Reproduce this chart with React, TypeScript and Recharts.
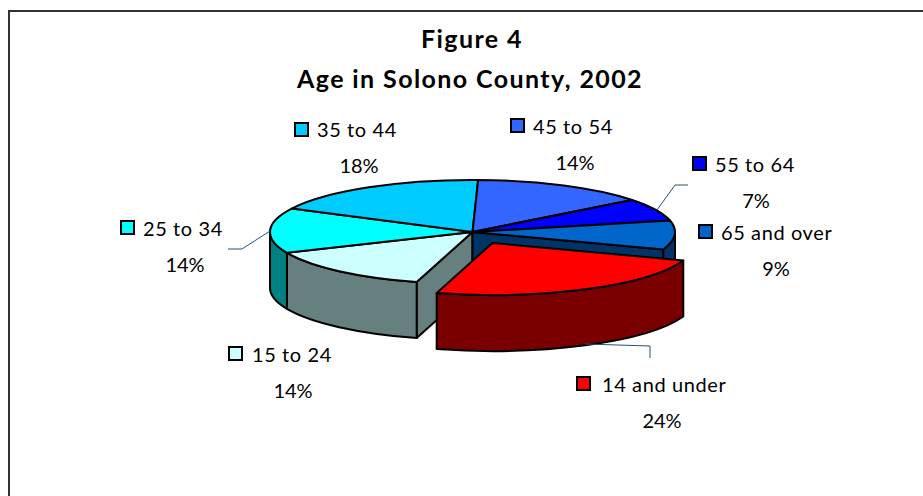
import { PieChart, Pie } from 'recharts';

// clockwise from the slice at the back left of the gap, so the pulled-out slice paints last
const ageGroups = ['15 to 24', '25 to 34', '35 to 44', '45 to 54', '55 to 64', '65 and over', '14 and under'];
const shares = [14, 14, 18, 14, 7, 9, 24];

const topColors = ['#CCFFFF', '#00FFFF', '#00CCFF', '#3366FF', '#0000FF', '#0066CC', '#FF0000'];
const wallColors = ['#668080', '#008080', '#006680', '#1A3380', '#000080', '#003366', '#7A0000'];

const data = ageGroups.map((name, i) => ({ name, value: shares[i], top: topColors[i], wall: wallColors[i] }));

const FONT = 'Lato, "Open Sans", sans-serif';
const SQUASH = 0.257;
const DEPTH = 56;
const PULLED = '14 and under';
const PULL_X = 20;
const PULL_Y = 11;
const LEADER = '#24507f';

type Spot = { sx: number; sy: number; tx: number; ty: number; px: number; py: number; leader?: string };
const spots: Record<string, Spot> = {
  '35 to 44': { sx: 295, sy: 123, tx: 317, ty: 137, px: 359, py: 173 },
  '45 to 54': { sx: 511, sy: 119, tx: 533, ty: 134, px: 575, py: 170 },
  '55 to 64': { sx: 693, sy: 157, tx: 715, ty: 172, px: 756, py: 208, leader: '657,210 675,185 688,185' },
  '65 and over': { sx: 699, sy: 225, tx: 721, ty: 240, px: 776, py: 276 },
  '25 to 34': { sx: 121, sy: 221, tx: 143, ty: 236, px: 185, py: 272, leader: '270,231 242,249 228,249' },
  '15 to 24': { sx: 229, sy: 347, tx: 252, ty: 362, px: 293, py: 398 },
  '14 and under': { sx: 577, sy: 377, tx: 602, ty: 392, px: 662, py: 428, leader: '585,344 650,346 650,358' },
};

function Slice(props: any) {
  const { outerRadius: rx, startAngle, endAngle, name } = props;
  const top = props.payload?.top ?? props.top;
  const wall = props.payload?.wall ?? props.wall;
  const ry = rx * SQUASH;
  const cx = props.cx + (name === PULLED ? PULL_X : 0);
  const cy = props.cy + (name === PULLED ? PULL_Y : 0);
  const pt = (deg: number, drop = 0): [number, number] => {
    const r = (deg * Math.PI) / 180;
    return [cx + rx * Math.cos(r), cy - ry * Math.sin(r) + drop];
  };
  const arc = (from: number, to: number, drop = 0) => {
    const [x, y] = pt(to, drop);
    const sweep = to < from ? 1 : 0;
    return `A ${rx} ${ry} 0 ${Math.abs(to - from) > 180 ? 1 : 0} ${sweep} ${x} ${y}`;
  };
  const [sx, sy] = pt(startAngle);
  const walls: string[] = [];
  // the rim only shows where the angle is on the lower half of the ellipse
  for (const k of [-360, 0]) {
    const a = Math.min(startAngle, k);
    const b = Math.max(endAngle, k - 180);
    if (a > b) {
      const [ax, ay] = pt(a);
      const [bx, by] = pt(b, DEPTH);
      const [cx2, cy2] = pt(a, DEPTH);
      walls.push(`M ${ax} ${ay} ${arc(a, b)} L ${bx} ${by} ${arc(b, a, DEPTH)} L ${cx2} ${cy2} Z`);
    }
  }
  const face = (deg: number) => {
    const [x, y] = pt(deg);
    return `M ${cx} ${cy} L ${x} ${y} L ${x} ${y + DEPTH} L ${cx} ${cy + DEPTH} Z`;
  };
  return (
    <g stroke="#000" strokeWidth={2} strokeLinejoin="round">
      {name === '15 to 24' && <path d={face(startAngle)} fill={wall} />}
      {name === '65 and over' && <path d={face(endAngle)} fill={wall} />}
      {walls.map((d, i) => (
        <path key={i} d={d} fill={wall} />
      ))}
      <path d={`M ${cx} ${cy} L ${sx} ${sy} ${arc(startAngle, endAngle)} Z`} fill={top} />
    </g>
  );
}

function SliceLabel(props: any) {
  const s = spots[props.name];
  const color = props.payload?.top ?? props.top;
  return (
    <g fontFamily={FONT} fontSize={20} fill="#000">
      {s.leader && <polyline points={s.leader} fill="none" stroke={LEADER} strokeWidth={1} />}
      <rect x={s.sx} y={s.sy} width={13} height={13} fill={color} stroke="#000" strokeWidth={2} />
      <text x={s.tx} y={s.ty} letterSpacing={0.6}>
        {props.name}
      </text>
      <text x={s.px} y={s.py} textAnchor="middle">
        {props.value}%
      </text>
    </g>
  );
}

export default function App() {
  return (
    <div
      style={{
        position: 'absolute',
        left: 0,
        top: 0,
        width: 923,
        height: 496,
        overflow: 'hidden',
        background: '#fff',
      }}
    >
      <div style={{ position: 'absolute', left: 8, top: 10, width: 915, height: 486, borderLeft: '2px solid #333', borderTop: '2px solid #333' }} />
      <PieChart width={923} height={496} margin={{ top: 0, right: 0, bottom: 0, left: 0 }}>
        <text x={472} y={48} textAnchor="middle" fontFamily={FONT} fontSize={25} fontWeight={700} letterSpacing={1.4} fill="#000">
          Figure 4
        </text>
        <text x={470} y={88} textAnchor="middle" fontFamily={FONT} fontSize={25} fontWeight={700} letterSpacing={1.4} fill="#000">
          Age in Solono County, 2002
        </text>
        <Pie
          data={data}
          dataKey="value"
          nameKey="name"
          cx={472.5}
          cy={232}
          innerRadius={0}
          outerRadius={202.5}
          startAngle={-106}
          endAngle={-466}
          shape={Slice}
          label={SliceLabel}
          labelLine={false}
          isAnimationActive={false}
        />
      </PieChart>
    </div>
  );
}
